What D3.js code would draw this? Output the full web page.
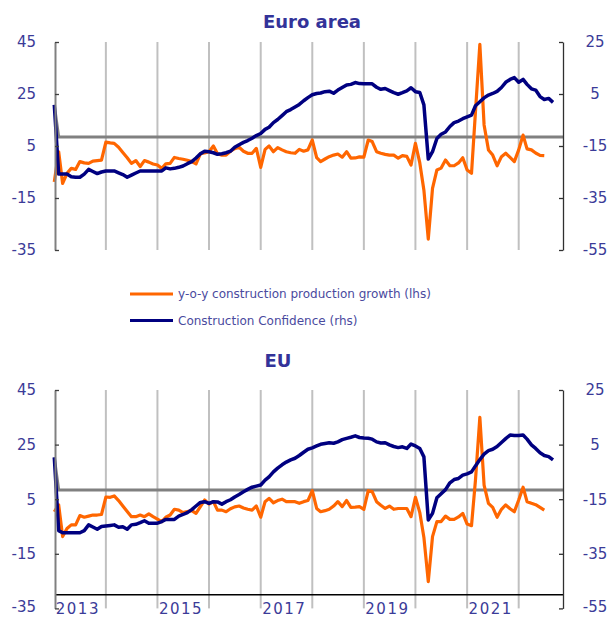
<!DOCTYPE html>
<html>
<head>
<meta charset="utf-8">
<script src="https://cdnjs.cloudflare.com/ajax/libs/d3/7.8.5/d3.min.js"></script>
<style>
  body { margin: 0; background: #ffffff; }
  svg { display: block; }
  .tick-label { font-family: "DejaVu Sans", sans-serif; font-size: 15px; fill: #3b3b98; }
  .year-label { font-family: "DejaVu Sans", sans-serif; font-size: 15px; fill: #3b3b98; letter-spacing: 1.5px; }
  .panel-title { font-family: "DejaVu Sans", sans-serif; font-size: 18px; font-weight: bold; fill: #333399; }
  .legend-text { font-family: "DejaVu Sans", sans-serif; font-size: 12px; fill: #4a4a9e; }
</style>
</head>
<body>
<div id="chart"></div>
<script>
// Monthly data, Jan 2013 onwards
// y-o-y construction production growth (lhs), euro area
var eaProduction = [-8.8, 2.8, -9.4, -5.5, -3.6, -4.0, -1.0, -1.5, -1.7, -0.8, -0.6, -0.4,
  6.5, 6.2, 6.0, 4.5, 2.5, 0.5, -1.7, -0.6, -2.9, -0.6, -1.2, -1.9,
  -2.3, -3.6, -1.9, -1.7, 0.6, 0.2, -0.1, -0.5, -1.0, -1.9, 2.0, 2.3,
  2.8, 5.0, 2.0, 1.5, 1.5, 3.0, 4.0, 4.5, 3.0, 2.2, 2.2, 4.1,
  -3.2, 3.7, 5.0, 2.8, 4.4, 3.5, 2.8, 2.4, 2.2, 3.7, 3.0, 3.5,
  7.3, 0.5, -1.0, 0.0, 0.9, 1.5, 1.9, 0.7, 2.8, 0.3, 0.4, 0.8,
  0.7, 7.3, 6.7, 2.8, 2.2, 1.8, 1.5, 1.5, 0.3, 1.3, 1.0, -2.3,
  6.0, -1.5, -12.0, -30.8, -11.3, -4.2, -3.5, -0.4, -2.6, -2.6, -1.5, 0.5,
  -4.2, -5.5, 18.2, 44.1, 13.1, 3.5, 1.5, -2.6, 0.9, 2.2, 0.6, -1.0,
  3.5, 9.2, 3.9, 3.5, 2.3, 1.4, 1.3];

// Construction confidence (rhs), euro area
var eaConfidence = [0.8, -25.8, -25.8, -25.8, -26.8, -27.0, -27.0, -25.8, -24.0, -24.8, -25.6, -25.0,
  -24.6, -24.6, -24.6, -25.3, -26.0, -27.0, -26.2, -25.4, -24.6, -24.6, -24.6, -24.6,
  -24.6, -24.6, -23.4, -23.8, -23.6, -23.2, -22.7, -21.8, -21.0, -19.6, -18.0, -17.0,
  -17.2, -17.6, -18.2, -18.0, -17.6, -17.0, -15.5, -14.5, -13.6, -12.9, -12.0, -11.0,
  -10.2, -8.6, -7.8, -6.0, -4.8, -3.3, -1.8, -1.0, 0.0, 1.0, 2.4, 3.6,
  4.7, 5.2, 5.4, 5.9, 6.1, 5.3, 6.5, 7.5, 8.5, 8.7, 9.4, 9.0,
  8.9, 8.9, 8.9, 7.6, 6.8, 7.1, 6.3, 5.5, 4.9, 5.5, 6.2, 7.4,
  5.9, 5.6, 0.8, -20.0, -17.2, -12.1, -10.5, -9.6, -7.5, -6.0, -5.4, -4.5,
  -3.8, -3.1, 0.5, 2.0, 3.5, 4.6, 5.2, 6.0, 7.5, 9.5, 10.6, 11.3,
  9.5, 10.6, 8.7, 7.0, 6.5, 4.0, 2.9, 3.3, 1.8];

// y-o-y construction production growth (lhs), EU
var euProduction = [0.4, 2.9, -8.7, -5.7, -4.4, -4.4, -1.0, -1.6, -1.2, -0.8, -0.8, -0.6,
  5.8, 5.7, 6.2, 4.5, 2.5, 0.5, -1.4, -1.4, -0.8, -1.4, -0.4, -1.4,
  -2.3, -3.2, -1.6, -0.8, 1.3, 1.0, 0.1, 0.5, 0.8, -0.2, 2.3, 4.7,
  3.2, 4.1, 1.0, 1.0, 0.4, 1.5, 2.2, 2.5, 1.8, 1.3, 1.0, 2.5,
  -1.6, 4.1, 5.3, 3.7, 4.5, 5.0, 4.1, 4.1, 4.1, 3.5, 4.1, 4.5,
  8.1, 1.6, 0.4, 0.8, 1.3, 2.5, 4.1, 2.3, 4.5, 2.0, 2.1, 2.3,
  1.3, 8.1, 7.8, 4.1, 2.8, 1.6, 2.5, 1.3, 1.6, 1.6, 1.6, -1.4,
  5.7, 0.1, -9.0, -25.2, -8.7, -3.2, -3.2, -1.2, -2.4, -2.4, -1.5, -0.2,
  -4.1, -4.7, 12.0, 35.0, 10.2, 3.5, 2.0, -1.6, 1.3, 2.9, 1.5, 0.4,
  4.7, 9.4, 4.1, 3.5, 3.0, 2.0, 1.0];

// Construction confidence (rhs), EU
var euConfidence = [0.3, -26.5, -27.3, -27.3, -27.3, -27.3, -27.3, -26.5, -24.4, -25.2, -26.0, -25.0,
  -24.8, -24.6, -24.4, -25.3, -25.1, -26.0, -24.4, -24.2, -23.6, -22.9, -23.8, -23.8,
  -23.8, -23.2, -22.4, -22.4, -22.4, -21.2, -20.6, -19.9, -18.8, -17.5, -16.2, -15.9,
  -16.5, -15.9, -16.0, -16.8, -15.9, -15.2, -14.2, -13.3, -12.3, -11.4, -10.6, -10.2,
  -9.8, -8.0, -6.8, -5.0, -3.6, -2.4, -1.4, -0.6, 0.0, 1.0, 2.2, 3.3,
  3.8, 4.5, 5.1, 5.4, 5.7, 5.5, 6.0, 6.8, 7.3, 7.7, 8.2, 7.6,
  7.4, 7.3, 7.0, 6.0, 5.6, 5.7, 4.9, 4.3, 3.9, 4.2, 3.6, 5.2,
  4.5, 3.6, 0.5, -22.6, -20.2, -14.5, -13.0, -11.5, -9.0, -7.8, -7.4, -6.2,
  -5.7, -5.0, -2.8, -0.5, 1.5, 2.8, 3.3, 4.3, 5.8, 7.2, 8.5, 8.3,
  8.3, 8.5, 7.0, 4.9, 3.6, 2.0, 1.0, 0.6, -0.6];

// Long-term average of confidence, on the lhs scale (first point, then level)
var eaAverage = [20.8, 8.5];
var euAverage = [20.3, 8.4];

// Axis ticks and labels
var lhsTicks = [45, 25, 5, -15, -35];
var rhsTicks = [25, 5, -15, -35, -55];
var yearLabels = [2013, 2015, 2017, 2019, 2021];
var gridYears = [2014, 2015, 2016, 2017, 2018, 2019, 2020, 2021, 2022];

var legendItems = [
  { label: "y-o-y construction production growth (lhs)", color: "#ff6600" },
  { label: "Construction Confidence (rhs)", color: "#000080" }
];

// Canvas
var svgWidth = 610;
var svgHeight = 618;

var svg = d3.select("#chart")
  .append("svg")
  .attr("width", svgWidth)
  .attr("height", svgHeight);

// Shared x scale: months from Jan 2013
var leftX = 55;
var rightX = 563;
var xScale = d3.scaleTime()
  .domain([new Date(2013, 0, 1), new Date(2022, 0, 1)])
  .range([54.3, 518.7]);

function monthDate(i) {
  return new Date(2013, i, 1);
}

function drawPanel(p) {
  var g = svg.append("g");

  var yLeft = d3.scaleLinear().domain([-35, 45]).range([p.bottom, p.top]);
  var yRight = d3.scaleLinear().domain([-55, 25]).range([p.bottom, p.top]);

  // Title
  g.append("text")
    .attr("class", "panel-title")
    .attr("x", p.titleX)
    .attr("y", p.titleY)
    .attr("text-anchor", "middle")
    .text(p.title);

  // Vertical year gridlines
  g.selectAll(".grid")
    .data(gridYears)
    .enter()
    .append("line")
    .attr("x1", d => xScale(new Date(d, 0, 1)))
    .attr("x2", d => xScale(new Date(d, 0, 1)))
    .attr("y1", p.top)
    .attr("y2", p.bottom)
    .attr("stroke", "#c0c0c0")
    .attr("stroke-width", 2);

  // Category axis line (EU panel only)
  if (p.showYears) {
    g.append("line")
      .attr("x1", leftX)
      .attr("x2", rightX)
      .attr("y1", yRight(-50))
      .attr("y2", yRight(-50))
      .attr("stroke", "#000000")
      .attr("stroke-width", 1.3);
  }

  // Average line
  var avgPoints = [
    [monthDate(0), p.average[0]],
    [monthDate(1), p.average[1]],
    [xScale.invert(rightX), p.average[1]]
  ];
  g.append("path")
    .datum(avgPoints)
    .attr("fill", "none")
    .attr("stroke", "#808080")
    .attr("stroke-width", 3)
    .attr("d", d3.line().x(d => xScale(d[0])).y(d => yLeft(d[1])));

  // Production growth (lhs)
  var prodLine = d3.line()
    .x((d, i) => xScale(monthDate(i)))
    .y(d => yLeft(d));
  g.append("path")
    .datum(p.production)
    .attr("fill", "none")
    .attr("stroke", "#ff6600")
    .attr("stroke-width", 3.2)
    .attr("stroke-linejoin", "round")
    .attr("d", prodLine);

  // Confidence (rhs)
  var confLine = d3.line()
    .x((d, i) => xScale(monthDate(i)))
    .y(d => yRight(d));
  g.append("path")
    .datum(p.confidence)
    .attr("fill", "none")
    .attr("stroke", "#000080")
    .attr("stroke-width", 3.5)
    .attr("stroke-linejoin", "round")
    .attr("d", confLine);

  // Left axis
  var leftAxis = d3.axisLeft(yLeft)
    .tickValues(lhsTicks)
    .tickSizeInner(-4)
    .tickSizeOuter(0)
    .tickFormat("");
  var leftG = g.append("g")
    .attr("transform", `translate(${leftX}, 0)`)
    .call(leftAxis);
  leftG.select(".domain").attr("stroke", "#808080").attr("stroke-width", 2);
  leftG.selectAll(".tick line").attr("stroke", "#404040").attr("stroke-width", 1.3);

  g.selectAll(".lhs-label")
    .data(lhsTicks)
    .enter()
    .append("text")
    .attr("class", "tick-label")
    .attr("x", 36)
    .attr("y", d => Math.min(yLeft(d), 607))
    .attr("dy", "0.36em")
    .attr("text-anchor", "end")
    .text(d => d);

  // Right axis
  var rightAxis = d3.axisRight(yRight)
    .tickValues(rhsTicks)
    .tickSizeInner(-4)
    .tickSizeOuter(0)
    .tickFormat("");
  var rightG = g.append("g")
    .attr("transform", `translate(${rightX}, 0)`)
    .call(rightAxis);
  rightG.select(".domain").attr("stroke", "#303030").attr("stroke-width", 1.3);
  rightG.selectAll(".tick line").attr("stroke", "#303030").attr("stroke-width", 1.3);

  g.selectAll(".rhs-label")
    .data(rhsTicks)
    .enter()
    .append("text")
    .attr("class", "tick-label")
    .attr("x", 595)
    .attr("y", d => Math.min(yRight(d), 607))
    .attr("dy", "0.36em")
    .attr("text-anchor", "middle")
    .text(d => d);

  // Year labels
  if (p.showYears) {
    g.selectAll(".year-label")
      .data(yearLabels)
      .enter()
      .append("text")
      .attr("class", "year-label")
      .attr("x", d => xScale(new Date(d, 6, 1)) - 2)
      .attr("y", 614)
      .attr("text-anchor", "middle")
      .text(d => d);
  }
}

drawPanel({
  title: "Euro area", titleX: 312, titleY: 28,
  top: 42, bottom: 250,
  production: eaProduction, confidence: eaConfidence, average: eaAverage,
  showYears: false
});

drawPanel({
  title: "EU", titleX: 278, titleY: 367,
  top: 390, bottom: 608.4,
  production: euProduction, confidence: euConfidence, average: euAverage,
  showYears: true
});

// Legend
var legend = svg.append("g");
legendItems.forEach(function(item, i) {
  var ly = 294 + i * 26.5;
  legend.append("line")
    .attr("x1", 130)
    .attr("x2", 173)
    .attr("y1", ly)
    .attr("y2", ly)
    .attr("stroke", item.color)
    .attr("stroke-width", 3);
  legend.append("text")
    .attr("class", "legend-text")
    .attr("x", 178)
    .attr("y", ly)
    .attr("dy", "0.35em")
    .text(item.label);
});
</script>
</body>
</html>
